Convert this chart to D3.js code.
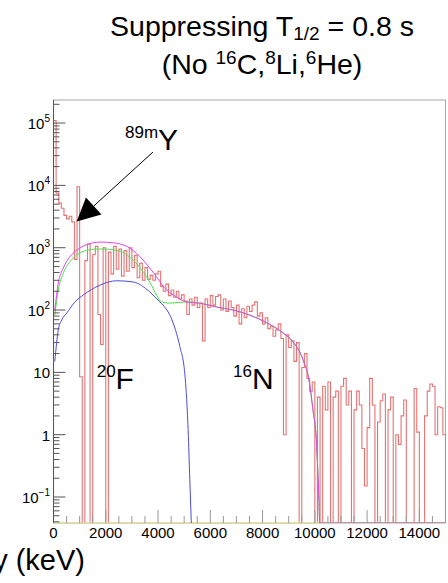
<!DOCTYPE html>
<html>
<head>
<meta charset="utf-8">
<script src="https://cdn.jsdelivr.net/npm/d3@7"></script>
<style>
  body { margin: 0; background: #fff; }
  svg { display: block; font-family: "Liberation Sans", Arial, sans-serif; }
</style>
</head>
<body>
<svg id="chart" width="448" height="583"></svg>
<script>
// Energy binning of the spectrum (keV)
const binWidth = 100;
const energyMax = 15000;

// Counts per 100 keV bin after suppression (0 = empty / negative bin)
const counts = [
  110000, 7500, 5200, 4300, 3300, 2900, 3200, 2600, 650, 9500,
  8.5, 0, 620, 1150, 0, 780, 1050, 85, 28, 1000,
  0, 850, 380, 1050, 450, 950, 350, 900, 420, 1000,
  480, 750, 330, 560, 300, 480, 310, 360, 300, 380,
  420, 240, 200, 260, 170, 210, 160, 200, 150, 175,
  140, 85, 150, 120, 160, 110, 130, 32, 150, 110,
  170, 120, 165, 175, 100, 150, 95, 140, 110, 80,
  120, 60, 105, 75, 115, 95, 120, 135, 80, 90,
  60, 75, 50, 55, 38, 48, 60, 35, 1, 40,
  25, 32, 15, 30, 0, 12, 20, 8, 5, 7,
  0, 4, 0, 6, 2.5, 7, 0, 4, 5, 0,
  6, 8, 3, 5, 0, 2.5, 5, 3, 0.6, 0.15,
  1.3, 8, 3, 0, 1.6, 3.5, 4.5, 0, 2.5, 4,
  0, 1, 0.7, 2, 3.6, 0, 0, 0, 5.5, 1.1,
  0, 0, 2, 5, 6.5, 6, 1, 2.8, 2.7, 1
];

// Fitted components, [energy keV, counts per bin]
const fitF20 = [
  [50, 15], [183, 48], [313, 69], [504, 89], [822, 135], [1139, 174],
  [1777, 251], [2415, 295], [3049, 282], [3687, 195], [4070, 135],
  [4196, 120], [4578, 62], [4834, 26], [5025, 9.5], [5151, 1.2],
  [5216, 0.19], [5273, 0.03]
];
const fitNoY = [
  [50, 83], [183, 209], [374, 389], [631, 600], [886, 760], [1269, 910],
  [1777, 955], [2415, 910], [3049, 630], [3687, 280], [3943, 174],
  [4135, 135], [4452, 129], [5090, 135], [5598, 129], [6236, 112],
  [6870, 100], [7508, 83], [8147, 63], [8781, 43], [9163, 31],
  [9545, 16], [9800, 6.6], [9927, 2.5], [10057, 0.83], [10118, 0.24],
  [10157, 0.09], [10185, 0.001], [15000, 0.001]
];
const fitTotal = [
  [50, 100], [183, 270], [374, 470], [631, 720], [886, 910], [1269, 1120],
  [1777, 1230], [2285, 1200], [2797, 1050], [3305, 720], [3687, 470],
  [3943, 340], [4196, 240], [4708, 162], [5090, 135], [5598, 129],
  [6236, 112], [6870, 100], [7508, 83], [8147, 63], [8781, 43],
  [9163, 31], [9545, 16], [9800, 6.6], [9927, 2.5], [10057, 0.83],
  [10118, 0.24], [10157, 0.09], [10185, 0.001], [15000, 0.001]
];
const fitBackground = [[0, 0.001], [15000, 0.001]];

// Axis ticks
const xTickValues = [0, 2000, 4000, 6000, 8000, 10000, 12000, 14000];
const xMinorStep = 500;
const yDecades = [-1, 0, 1, 2, 3, 4, 5];

// Annotations: [energy keV, counts]
const arrowTail = [3807, 34300];
const arrowTip = [888, 2630];
const labelY89 = [2736, 37000];
const labelF20 = [1653, 5.5];
const labelN16 = [6869, 5.5];

// ---------------------------------------------------------------------------
const svg = d3.select("#chart");
const padL = 53.5, padR = 445.5, padT = 100, padB = 523;

const x = d3.scaleLinear().domain([0, energyMax]).range([padL, padR]);
const y = d3.scaleLog().domain([Math.pow(10, -1.417), Math.pow(10, 5.37)]).range([padB, padT]);
const yMin = y.domain()[0];
const yc = v => y(Math.max(v, yMin));

svg.append("defs").append("clipPath").attr("id", "plotClip")
  .append("rect").attr("x", padL).attr("y", padT - 1).attr("width", padR - padL).attr("height", padB - padT + 1);

// Title
const title = svg.append("text").attr("x", 262).attr("y", 36)
  .attr("text-anchor", "middle").attr("font-size", 28.5).attr("fill", "#000");
title.append("tspan").text("Suppressing T");
title.append("tspan").attr("font-size", 19).attr("dy", 4).text("1/2");
title.append("tspan").attr("dy", -4).text(" = 0.8 s");

const title2 = svg.append("text").attr("x", 262).attr("y", 74)
  .attr("text-anchor", "middle").attr("font-size", 28.5).attr("fill", "#000");
title2.append("tspan").text("(No ");
title2.append("tspan").attr("font-size", 19).attr("dy", -10).text("16");
title2.append("tspan").attr("dy", 10).text("C,");
title2.append("tspan").attr("font-size", 19).attr("dy", -10).text("8");
title2.append("tspan").attr("dy", 10).text("Li,");
title2.append("tspan").attr("font-size", 19).attr("dy", -10).text("6");
title2.append("tspan").attr("dy", 10).text("He)");

// Frame
svg.append("rect").attr("x", padL).attr("y", padT).attr("width", padR - padL).attr("height", padB - padT)
  .attr("fill", "none").attr("stroke", "#a8a8a8").attr("stroke-width", 1);

const plot = svg.append("g").attr("clip-path", "url(#plotClip)");

// Histogram outline (step), empty bins drop to the floor
const stepPts = [[x(0), padB]];
counts.forEach((c, i) => {
  const x0 = x(i * binWidth), x1 = x((i + 1) * binWidth);
  stepPts.push([x0, yc(c)], [x1, yc(c)]);
});
stepPts.push([x(counts.length * binWidth), padB]);
plot.append("path").attr("d", d3.line()(stepPts))
  .attr("fill", "none").attr("stroke", "#e36464").attr("stroke-width", 1.1).attr("stroke-opacity", 0.9);

// Fit curves
const curve = d3.line().x(d => x(d[0])).y(d => yc(d[1])).curve(d3.curveMonotoneX);
plot.append("path").attr("d", curve(fitBackground)).attr("fill", "none").attr("stroke", "#f2ee6a").attr("stroke-width", 1.6);
plot.append("path").attr("d", curve(fitF20)).attr("fill", "none").attr("stroke", "#4b4bd8").attr("stroke-width", 1);
plot.append("path").attr("d", curve(fitNoY)).attr("fill", "none").attr("stroke", "#4ee04e").attr("stroke-width", 1);
plot.append("path").attr("d", curve(fitTotal)).attr("fill", "none").attr("stroke", "#e642e6").attr("stroke-width", 1);

// X axis ticks (drawn inside the frame)
const xMinor = d3.range(0, energyMax + 1, xMinorStep);
svg.append("g").selectAll("line").data(xMinor).join("line")
  .attr("x1", d => x(d)).attr("x2", d => x(d))
  .attr("y1", padB).attr("y2", d => padB - (d % 2000 === 0 ? 13 : 7))
  .attr("stroke", "#999").attr("stroke-width", 1);
svg.append("g").selectAll("text").data(xTickValues).join("text")
  .attr("x", d => x(d)).attr("y", 537.5).attr("text-anchor", "middle")
  .attr("font-size", 15).attr("fill", "#000").text(d => d);

// X axis title
svg.append("text").attr("x", 85).attr("y", 570).attr("text-anchor", "end")
  .attr("font-size", 29).attr("fill", "#000").text("Energy (keV)");

// Y axis line and log ticks
svg.append("line").attr("x1", padL).attr("x2", padL).attr("y1", padT).attr("y2", padB)
  .attr("stroke", "#555").attr("stroke-width", 1);
const yMinor = [];
for (let k = -2; k <= 5; k++) for (let m = 2; m <= 9; m++) {
  const v = m * Math.pow(10, k);
  if (v >= yMin && v <= y.domain()[1]) yMinor.push(v);
}
svg.append("g").selectAll("line").data(yMinor).join("line")
  .attr("x1", padL).attr("x2", padL + 6).attr("y1", d => y(d)).attr("y2", d => y(d))
  .attr("stroke", "#555").attr("stroke-width", 1);
svg.append("g").selectAll("line").data(yDecades).join("line")
  .attr("x1", padL).attr("x2", padL + 12).attr("y1", d => y(Math.pow(10, d))).attr("y2", d => y(Math.pow(10, d)))
  .attr("stroke", "#555").attr("stroke-width", 1);

const yLab = svg.append("g").selectAll("text").data(yDecades).join("text")
  .attr("x", 50).attr("y", d => y(Math.pow(10, d)) + 6)
  .attr("text-anchor", "end").attr("font-size", 15).attr("fill", "#000");
yLab.each(function (d) {
  const t = d3.select(this);
  if (d === 0) { t.text("1"); return; }
  if (d === 1) { t.text("10"); return; }
  t.append("tspan").text("10");
  t.append("tspan").attr("font-size", 10).attr("dy", -7).text(d < 0 ? "\u2212" + (-d) : d);
});

// Annotations
function isotopeLabel(pos, mass, sym) {
  const t = svg.append("text").attr("x", x(pos[0])).attr("y", y(pos[1])).attr("font-size", 30).attr("fill", "#000");
  t.append("tspan").attr("font-size", 17).attr("dy", -12).text(mass);
  t.append("tspan").attr("dy", 12).text(sym);
}
isotopeLabel(labelY89, "89m", "Y");
isotopeLabel(labelF20, "20", "F");
isotopeLabel(labelN16, "16", "N");

// Arrow pointing to the 89mY line
const tx = x(arrowTail[0]), ty = y(arrowTail[1]);
const hx = x(arrowTip[0]), hy = y(arrowTip[1]);
const ang = Math.atan2(hy - ty, hx - tx);
const headLen = 23, headHalf = 11.5;
const bx = hx - headLen * Math.cos(ang), by = hy - headLen * Math.sin(ang);
svg.append("line").attr("x1", tx).attr("y1", ty).attr("x2", bx).attr("y2", by)
  .attr("stroke", "#000").attr("stroke-width", 1);
svg.append("path").attr("d", d3.line()([
  [hx, hy],
  [bx + headHalf * Math.sin(ang), by - headHalf * Math.cos(ang)],
  [bx - headHalf * Math.sin(ang), by + headHalf * Math.cos(ang)]
]) + "Z").attr("fill", "#000");
</script>
</body>
</html>
